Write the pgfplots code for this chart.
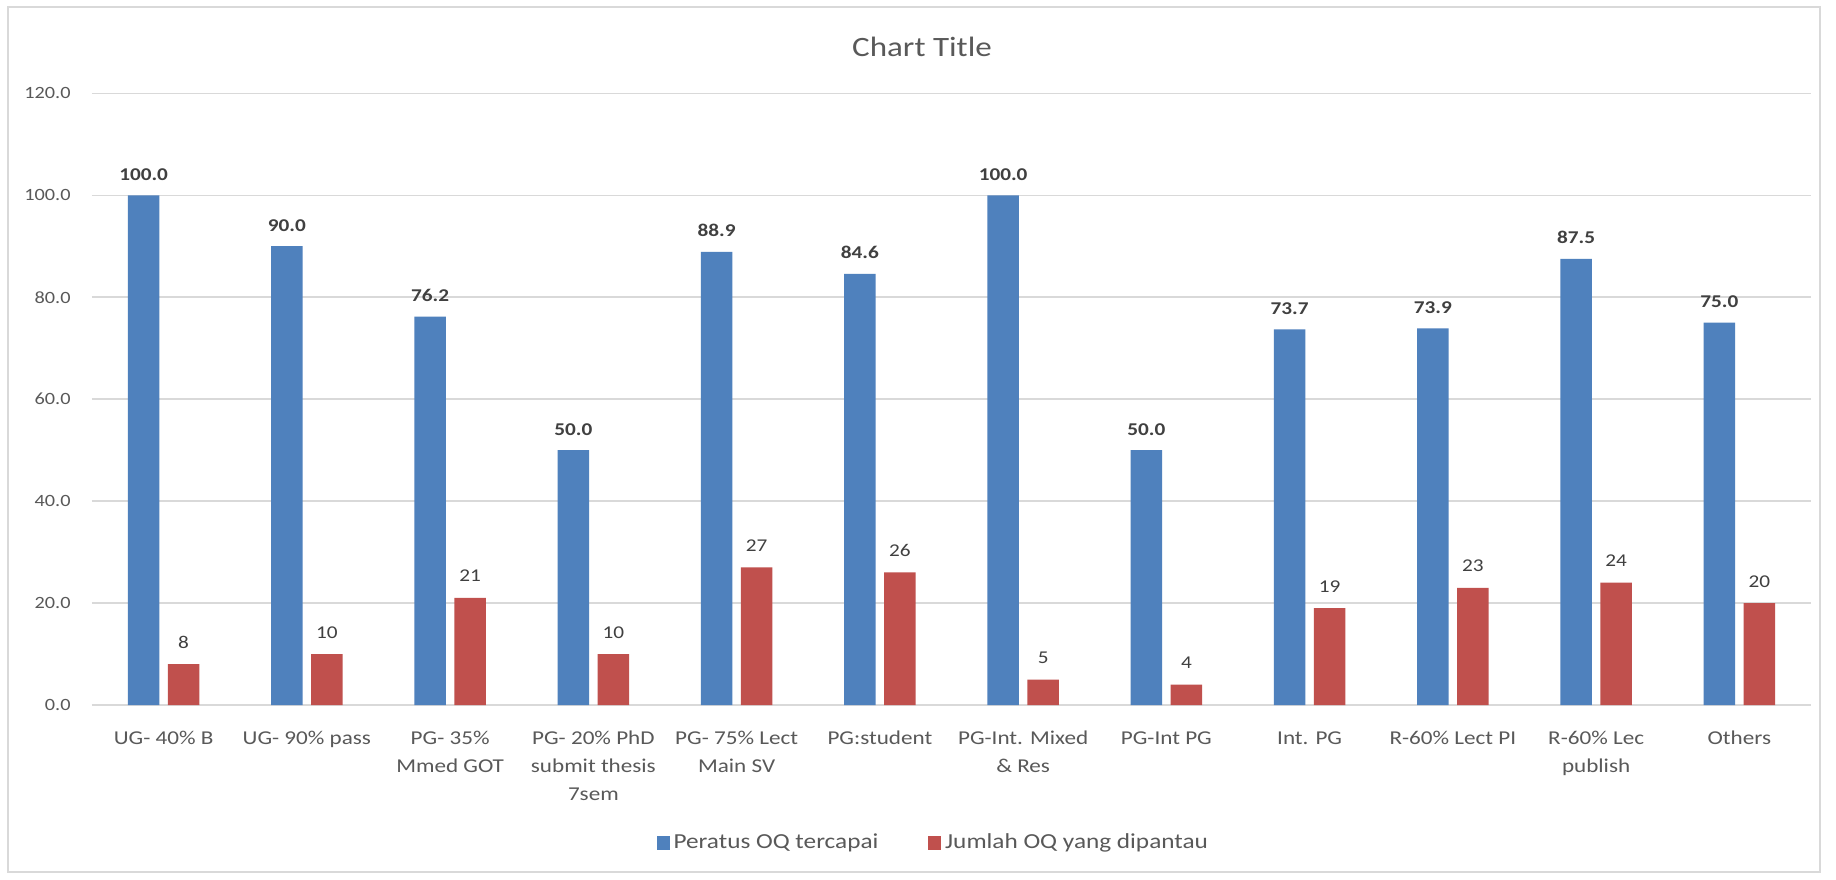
\documentclass[border=0pt]{standalone}
\usepackage{pgfplots}
\pgfplotsset{compat=1.18}
\usepackage{fontspec}
\setmainfont{Carlito}[FakeStretch=1.18]

\definecolor{barblue}{HTML}{4F81BD}
\definecolor{barred}{HTML}{C0504D}
\definecolor{gridgray}{HTML}{D9D9D9}
\definecolor{labelgray}{HTML}{595959}
\definecolor{valgray}{HTML}{404040}

% category label, baseline on its first line
\newcommand{\lbl}[1]{\begin{tabular}[t]{@{}c@{}}#1\end{tabular}}

\begin{document}
\begin{tikzpicture}
\useasboundingbox (0,0) rectangle (918pt,439.5pt);
\fill[white] (0,0) rectangle (918pt,439.5pt);
% chart frame
\draw[gridgray, line width=0.75pt] (4pt,3.5pt) rectangle (910pt,436pt);
% chart title
\node[labelgray, font=\fontsize{14}{16}\selectfont] at (461pt,416pt) {Chart Title};

\begin{axis}[
  at={(46pt,87pt)}, anchor=south west,
  scale only axis, width=859.5pt, height=305.85pt,
  xmin=-0.5, xmax=11.5, ymin=0, ymax=120,
  ybar, bar width=15.75pt,
  xtick={0,...,11},
  xticklabels={
    {\lbl{UG- 40\% B}},
    {\lbl{UG- 90\% pass}},
    {\lbl{PG- 35\%\\Mmed GOT}},
    {\lbl{PG- 20\% PhD\\submit thesis\\7sem}},
    {\lbl{PG- 75\% Lect\\Main SV}},
    {\lbl{PG:student}},
    {\lbl{PG-Int. Mixed\\\& Res}},
    {\lbl{PG-Int PG}},
    {\lbl{Int. PG}},
    {\lbl{R-60\% Lect PI}},
    {\lbl{R-60\% Lec\\publish}},
    {\lbl{Others}}},
  ytick={0,20,...,120},
  axis line style={draw=none},
  major tick length=0pt,
  ymajorgrids,
  grid style={gridgray, line width=0.75pt},
  /pgf/number format/assume math mode=true,
  y tick label style={
    /pgf/number format/fixed,
    /pgf/number format/fixed zerofill,
    /pgf/number format/precision=1,
    anchor=east, inner sep=0pt, xshift=-10.5pt,
    font=\fontsize{8.6}{10}\selectfont, text=labelgray},
  x tick label style={
    anchor=base, inner sep=0pt, yshift=-19.5pt,
    font=\fontsize{9.8}{14}\selectfont, text=labelgray},
  legend style={
    at={(0.49,-0.2256)}, anchor=center,
    draw=none, fill=none,
    font=\fontsize{10.7}{12}\selectfont, text=labelgray,
    /tikz/every even column/.append style={column sep=23pt}},
  legend columns=2,
  legend cell align=left,
]

% Peratus OQ tercapai
\addplot[forget plot, fill=barblue, draw=none, bar shift=-10pt,
  nodes near coords={\textbf{\pgfmathprintnumber[fixed,fixed zerofill,precision=1]{\pgfplotspointmeta}}},
  every node near coord/.append style={font=\fontsize{9}{11}\selectfont, text=valgray, anchor=base, yshift=7.5pt}]
coordinates {
  (0,100.0) (1,90.0) (2,76.2) (3,50.0) (4,88.9) (5,84.6)
  (6,100.0) (7,50.0) (8,73.7) (9,73.9) (10,87.5) (11,75.0)
};

% Jumlah OQ yang dipantau
\addplot[forget plot, fill=barred, draw=none, bar shift=10pt,
  nodes near coords={\pgfmathprintnumber[fixed,precision=0]{\pgfplotspointmeta}},
  every node near coord/.append style={font=\fontsize{9}{11}\selectfont, text=valgray, anchor=base, yshift=8pt}]
coordinates {
  (0,8) (1,10) (2,21) (3,10) (4,27) (5,26)
  (6,5) (7,4) (8,19) (9,23) (10,24) (11,20)
};

\addlegendimage{legend image code/.code={\fill[barblue] (0pt,-3.25pt) rectangle (6pt,3.25pt);}}
\addlegendentry{Peratus OQ tercapai}
\addlegendimage{legend image code/.code={\fill[barred] (0pt,-3.25pt) rectangle (6pt,3.25pt);}}
\addlegendentry{Jumlah OQ yang dipantau}
\end{axis}
\end{tikzpicture}
\end{document}
